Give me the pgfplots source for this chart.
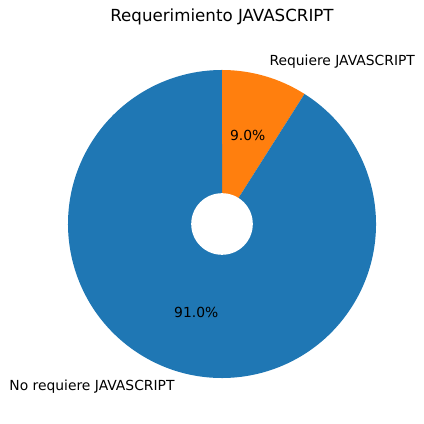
\documentclass[border=0pt]{standalone}
\usepackage{pgfplots}
\usepackage{pgfplotstable}
\pgfplotsset{compat=1.18}
\usepackage{fontspec}
\setmainfont{DejaVu Sans}
\definecolor{mblue}{HTML}{1F77B4}
\definecolor{morange}{HTML}{FF7F0E}
\pgfplotstableread{
label value
Requiere 9.0
NoRequiere 91.0
}\piedata
\pgfplotstablegetelem{0}{value}\of\piedata
\let\valA\pgfplotsretval
\pgfplotstablegetelem{1}{value}\of\piedata
\let\valB\pgfplotsretval
\begin{document}
\begin{tikzpicture}
\begin{axis}[
  scale only axis,
  width=317.25pt, height=318pt,
  xmin=-1.4416, xmax=1.3052,
  ymin=-1.2987, ymax=1.4545,
  hide axis,
  clip=false,
  /pgf/number format/assume math mode=true,
]
\pgfmathsetmacro\total{\valA+\valB}
\pgfmathsetmacro\fA{\valA/\total}
\pgfmathsetmacro\fB{\valB/\total}
\pgfmathsetmacro\aA{90-360*\fA}
\pgfmathsetmacro\aB{\aA-360*\fB}
\pgfmathsetmacro\mA{(90+\aA)/2}
\pgfmathsetmacro\mB{(\aA+\aB)/2}
\draw[draw=none] (rel axis cs:0,0) rectangle (rel axis cs:1,1);
\fill[morange] (axis cs:0,0) -- (axis cs:0,1) arc[start angle=90, end angle=\aA, radius=1] -- cycle;
\fill[mblue] (axis cs:0,0) -- ({cos(\aA)},{sin(\aA)}) arc[start angle=\aA, end angle=\aB, radius=1] -- cycle;
\fill[white] (axis cs:0,0) circle[radius=0.2];
\node[anchor=west, inner sep=0pt, font=\fontsize{10.4}{12}\selectfont] at ({1.1*cos(\mA)},{1.1*sin(\mA)}) {Requiere JAVASCRIPT};
\node[anchor=east, inner sep=0pt, font=\fontsize{10.4}{12}\selectfont] at ({1.1*cos(\mB)},{1.1*sin(\mB)}) {No requiere JAVASCRIPT};
\node[inner sep=0pt, font=\fontsize{10.4}{12}\selectfont] at ({0.6*cos(\mA)},{0.6*sin(\mA)}) {\pgfmathprintnumber[fixed,precision=1,fixed zerofill,assume math mode=true]{\valA}\%};
\node[inner sep=0pt, font=\fontsize{10.4}{12}\selectfont] at ({0.6*cos(\mB)},{0.6*sin(\mB)}) {\pgfmathprintnumber[fixed,precision=1,fixed zerofill,assume math mode=true]{\valB}\%};
\node[font=\fontsize{12.5}{15}\selectfont] at (axis cs:0,1.344) {Requerimiento JAVASCRIPT};
\end{axis}
\end{tikzpicture}
\end{document}
